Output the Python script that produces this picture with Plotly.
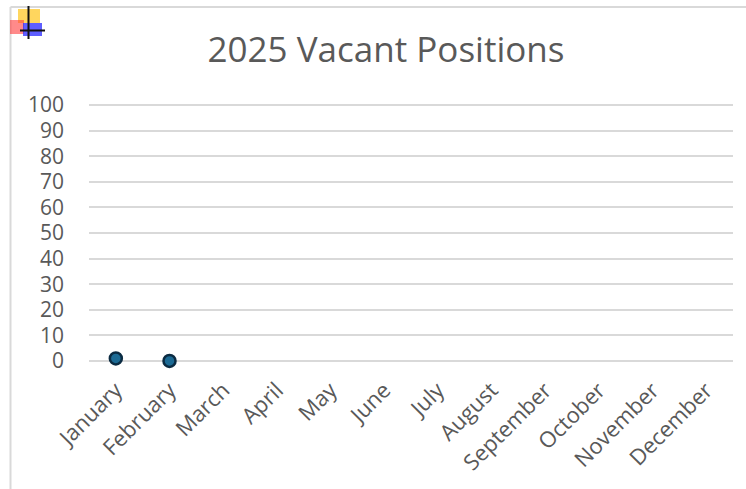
import plotly.graph_objects as go

months = ["January", "February", "March", "April", "May", "June", "July",
          "August", "September", "October", "November", "December"]
vacant_months = ["January", "February"]
vacant_values = [1, 0]
y_ticks = [0, 10, 20, 30, 40, 50, 60, 70, 80, 90, 100]

W, H = 746, 489
L, R, T, B = 89, 13, 103, 126
pw, ph = W - L - R, H - T - B

def px(x):
    return (x - L) / pw

def py(y):
    return (H - B - y) / ph

fig = go.Figure()
fig.add_trace(go.Scatter(
    x=vacant_months, y=vacant_values, mode="markers",
    marker=dict(size=12, color="#1c6a94", line=dict(color="#0b2b42", width=2.5)),
    cliponaxis=False, showlegend=False, hoverinfo="x+y",
))

shapes = [
    # frame (top and left edges)
    dict(type="line", xref="paper", yref="paper", x0=px(10.5), x1=px(746), y0=py(7), y1=py(7),
         line=dict(color="#d9d9d9", width=2)),
    dict(type="line", xref="paper", yref="paper", x0=px(10.5), x1=px(10.5), y0=py(7), y1=py(489),
         line=dict(color="#d9d9d9", width=2)),
    # small icon at top-left
    dict(type="rect", xref="paper", yref="paper", x0=px(18), x1=px(40), y0=py(23), y1=py(9),
         fillcolor="rgba(255,200,40,0.75)", line=dict(width=0)),
    dict(type="rect", xref="paper", yref="paper", x0=px(10), x1=px(24), y0=py(34), y1=py(20),
         fillcolor="rgba(255,60,60,0.6)", line=dict(width=0)),
    dict(type="rect", xref="paper", yref="paper", x0=px(23), x1=px(42), y0=py(36), y1=py(23),
         fillcolor="rgba(40,40,255,0.75)", line=dict(width=0)),
    dict(type="line", xref="paper", yref="paper", x0=px(28.5), x1=px(28.5), y0=py(6), y1=py(39),
         line=dict(color="#111111", width=2)),
    dict(type="line", xref="paper", yref="paper", x0=px(20), x1=px(45), y0=py(30.5), y1=py(30.5),
         line=dict(color="#111111", width=2)),
]

fig.update_layout(
    width=W, height=H,
    margin=dict(l=L, r=R, t=T, b=B, pad=0),
    paper_bgcolor="white", plot_bgcolor="white",
    font=dict(family="Open Sans, Arial, sans-serif", color="#595959"),
    title=dict(text="2025 Vacant Positions", xref="container", yref="container",
               x=386 / W, y=1 - 50 / H, xanchor="center", yanchor="middle",
               font=dict(size=35, color="#595959")),
    xaxis=dict(type="category", categoryorder="array", categoryarray=months,
               tickvals=months, tickangle=-45, tickfont=dict(size=22, color="#595959"),
               showgrid=False, showline=False, zeroline=False, ticks="",
               ticklabelstandoff=9, range=[-0.5, 11.5], fixedrange=True),
    yaxis=dict(range=[-0.8, 100.8], tickvals=y_ticks, tickfont=dict(size=21, color="#595959"),
               showgrid=True, gridcolor="#d9d9d9", gridwidth=1.5, zeroline=False,
               showline=False, ticks="", ticklabelstandoff=24, fixedrange=True),
    shapes=shapes,
)

fig.write_html("out.html", config={"displayModeBar": False},
               post_script="document.body.style.margin='0';")
